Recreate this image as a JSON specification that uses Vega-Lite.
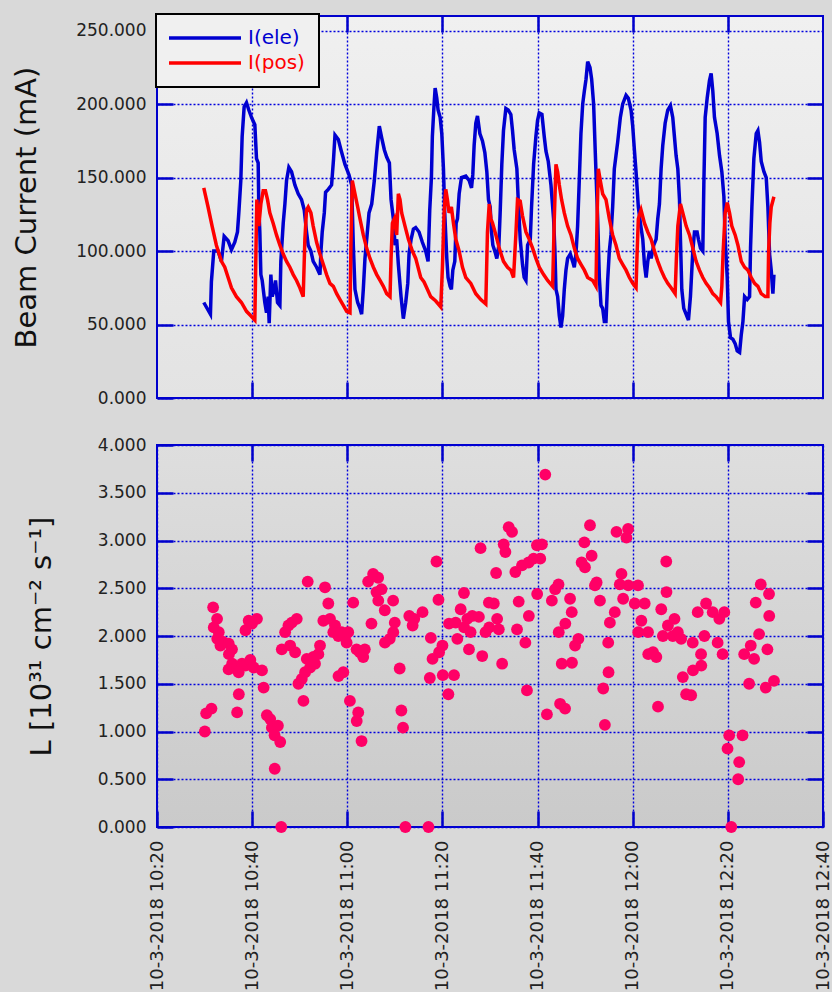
{
"$schema": "https://vega.github.io/schema/vega-lite/v6.json",
"background": "#d9d9d9",
"padding": {"left": 11, "top": 13, "right": 2, "bottom": 0},
"bounds": "flush",
"spacing": 47,
"config": {
  "view": {"stroke": "#0000cc", "strokeWidth": 2},
  "legend": {"strokeWidth": 2},
  "axis": {"labelFont": "DejaVu Sans", "labelFontSize": 17, "labelColor": "#222222", "titleFont": "DejaVu Sans", "titleFontSize": 29, "titleFontWeight": "normal", "titleColor": "#111111", "gridColor": "#0000dd", "gridDash": [2, 2], "gridWidth": 1.4, "gridOpacity": 1, "domain": false, "tickColor": "#0000cc", "tickWidth": 2.5, "tickSize": -16, "labelPadding": 27}
},
"datasets": {
"beam": [
{"t":"2018-10-03T10:29:50","s":"I(ele)","v":65},{"t":"2018-10-03T10:31:14","s":"I(ele)","v":57},{"t":"2018-10-03T10:31:26","s":"I(ele)","v":79},{"t":"2018-10-03T10:31:56","s":"I(ele)","v":100},{"t":"2018-10-03T10:32:50","s":"I(ele)","v":100},{"t":"2018-10-03T10:33:33","s":"I(ele)","v":93},{"t":"2018-10-03T10:34:07","s":"I(ele)","v":110},{"t":"2018-10-03T10:34:57","s":"I(ele)","v":107},{"t":"2018-10-03T10:35:39","s":"I(ele)","v":101},{"t":"2018-10-03T10:36:21","s":"I(ele)","v":106},{"t":"2018-10-03T10:36:55","s":"I(ele)","v":113},{"t":"2018-10-03T10:37:12","s":"I(ele)","v":126},{"t":"2018-10-03T10:37:37","s":"I(ele)","v":148},{"t":"2018-10-03T10:37:54","s":"I(ele)","v":178},{"t":"2018-10-03T10:38:19","s":"I(ele)","v":198},{"t":"2018-10-03T10:38:49","s":"I(ele)","v":201},{"t":"2018-10-03T10:39:18","s":"I(ele)","v":196},{"t":"2018-10-03T10:39:52","s":"I(ele)","v":191},{"t":"2018-10-03T10:40:34","s":"I(ele)","v":186},{"t":"2018-10-03T10:40:55","s":"I(ele)","v":163},{"t":"2018-10-03T10:41:16","s":"I(ele)","v":160},{"t":"2018-10-03T10:41:24","s":"I(ele)","v":130},{"t":"2018-10-03T10:41:37","s":"I(ele)","v":113},{"t":"2018-10-03T10:41:50","s":"I(ele)","v":84},{"t":"2018-10-03T10:42:07","s":"I(ele)","v":80},{"t":"2018-10-03T10:42:40","s":"I(ele)","v":65},{"t":"2018-10-03T10:43:01","s":"I(ele)","v":58},{"t":"2018-10-03T10:43:22","s":"I(ele)","v":69},{"t":"2018-10-03T10:43:35","s":"I(ele)","v":51},{"t":"2018-10-03T10:43:56","s":"I(ele)","v":84},{"t":"2018-10-03T10:44:13","s":"I(ele)","v":69},{"t":"2018-10-03T10:44:38","s":"I(ele)","v":74},{"t":"2018-10-03T10:44:55","s":"I(ele)","v":80},{"t":"2018-10-03T10:45:20","s":"I(ele)","v":65},{"t":"2018-10-03T10:45:50","s":"I(ele)","v":63},{"t":"2018-10-03T10:46:02","s":"I(ele)","v":93},{"t":"2018-10-03T10:46:32","s":"I(ele)","v":119},{"t":"2018-10-03T10:46:53","s":"I(ele)","v":132},{"t":"2018-10-03T10:47:14","s":"I(ele)","v":148},{"t":"2018-10-03T10:47:43","s":"I(ele)","v":157},{"t":"2018-10-03T10:48:17","s":"I(ele)","v":154},{"t":"2018-10-03T10:48:59","s":"I(ele)","v":145},{"t":"2018-10-03T10:49:41","s":"I(ele)","v":139},{"t":"2018-10-03T10:50:23","s":"I(ele)","v":135},{"t":"2018-10-03T10:50:57","s":"I(ele)","v":128},{"t":"2018-10-03T10:51:26","s":"I(ele)","v":113},{"t":"2018-10-03T10:51:47","s":"I(ele)","v":104},{"t":"2018-10-03T10:52:21","s":"I(ele)","v":100},{"t":"2018-10-03T10:52:50","s":"I(ele)","v":93},{"t":"2018-10-03T10:53:33","s":"I(ele)","v":89},{"t":"2018-10-03T10:54:15","s":"I(ele)","v":84},{"t":"2018-10-03T10:54:28","s":"I(ele)","v":100},{"t":"2018-10-03T10:54:44","s":"I(ele)","v":113},{"t":"2018-10-03T10:55:10","s":"I(ele)","v":126},{"t":"2018-10-03T10:55:26","s":"I(ele)","v":140},{"t":"2018-10-03T10:56:00","s":"I(ele)","v":142},{"t":"2018-10-03T10:56:42","s":"I(ele)","v":145},{"t":"2018-10-03T10:57:07","s":"I(ele)","v":163},{"t":"2018-10-03T10:57:25","s":"I(ele)","v":179},{"t":"2018-10-03T10:58:07","s":"I(ele)","v":176},{"t":"2018-10-03T10:58:40","s":"I(ele)","v":169},{"t":"2018-10-03T10:59:31","s":"I(ele)","v":159},{"t":"2018-10-03T11:00:21","s":"I(ele)","v":152},{"t":"2018-10-03T11:00:55","s":"I(ele)","v":145},{"t":"2018-10-03T11:01:16","s":"I(ele)","v":104},{"t":"2018-10-03T11:01:37","s":"I(ele)","v":74},{"t":"2018-10-03T11:02:11","s":"I(ele)","v":65},{"t":"2018-10-03T11:02:40","s":"I(ele)","v":61},{"t":"2018-10-03T11:03:01","s":"I(ele)","v":57},{"t":"2018-10-03T11:03:22","s":"I(ele)","v":74},{"t":"2018-10-03T11:03:43","s":"I(ele)","v":95},{"t":"2018-10-03T11:04:13","s":"I(ele)","v":113},{"t":"2018-10-03T11:04:34","s":"I(ele)","v":126},{"t":"2018-10-03T11:05:08","s":"I(ele)","v":132},{"t":"2018-10-03T11:05:41","s":"I(ele)","v":148},{"t":"2018-10-03T11:06:11","s":"I(ele)","v":167},{"t":"2018-10-03T11:06:44","s":"I(ele)","v":185},{"t":"2018-10-03T11:07:14","s":"I(ele)","v":177},{"t":"2018-10-03T11:07:47","s":"I(ele)","v":169},{"t":"2018-10-03T11:08:17","s":"I(ele)","v":164},{"t":"2018-10-03T11:08:51","s":"I(ele)","v":160},{"t":"2018-10-03T11:09:12","s":"I(ele)","v":135},{"t":"2018-10-03T11:09:41","s":"I(ele)","v":122},{"t":"2018-10-03T11:10:02","s":"I(ele)","v":104},{"t":"2018-10-03T11:10:23","s":"I(ele)","v":108},{"t":"2018-10-03T11:10:44","s":"I(ele)","v":91},{"t":"2018-10-03T11:11:18","s":"I(ele)","v":69},{"t":"2018-10-03T11:11:47","s":"I(ele)","v":54},{"t":"2018-10-03T11:12:17","s":"I(ele)","v":65},{"t":"2018-10-03T11:12:43","s":"I(ele)","v":78},{"t":"2018-10-03T11:12:59","s":"I(ele)","v":98},{"t":"2018-10-03T11:13:25","s":"I(ele)","v":108},{"t":"2018-10-03T11:13:54","s":"I(ele)","v":115},{"t":"2018-10-03T11:14:23","s":"I(ele)","v":116},{"t":"2018-10-03T11:15:05","s":"I(ele)","v":113},{"t":"2018-10-03T11:15:47","s":"I(ele)","v":106},{"t":"2018-10-03T11:16:29","s":"I(ele)","v":100},{"t":"2018-10-03T11:16:59","s":"I(ele)","v":93},{"t":"2018-10-03T11:17:20","s":"I(ele)","v":128},{"t":"2018-10-03T11:17:41","s":"I(ele)","v":150},{"t":"2018-10-03T11:17:53","s":"I(ele)","v":178},{"t":"2018-10-03T11:18:15","s":"I(ele)","v":200},{"t":"2018-10-03T11:18:28","s":"I(ele)","v":211},{"t":"2018-10-03T11:18:49","s":"I(ele)","v":204},{"t":"2018-10-03T11:19:05","s":"I(ele)","v":196},{"t":"2018-10-03T11:19:31","s":"I(ele)","v":191},{"t":"2018-10-03T11:19:52","s":"I(ele)","v":180},{"t":"2018-10-03T11:20:13","s":"I(ele)","v":156},{"t":"2018-10-03T11:20:29","s":"I(ele)","v":126},{"t":"2018-10-03T11:20:55","s":"I(ele)","v":95},{"t":"2018-10-03T11:21:11","s":"I(ele)","v":82},{"t":"2018-10-03T11:21:37","s":"I(ele)","v":76},{"t":"2018-10-03T11:21:53","s":"I(ele)","v":74},{"t":"2018-10-03T11:22:11","s":"I(ele)","v":87},{"t":"2018-10-03T11:22:36","s":"I(ele)","v":93},{"t":"2018-10-03T11:22:53","s":"I(ele)","v":119},{"t":"2018-10-03T11:23:10","s":"I(ele)","v":122},{"t":"2018-10-03T11:23:31","s":"I(ele)","v":139},{"t":"2018-10-03T11:24:00","s":"I(ele)","v":150},{"t":"2018-10-03T11:24:55","s":"I(ele)","v":151},{"t":"2018-10-03T11:25:37","s":"I(ele)","v":148},{"t":"2018-10-03T11:26:07","s":"I(ele)","v":143},{"t":"2018-10-03T11:26:23","s":"I(ele)","v":152},{"t":"2018-10-03T11:26:40","s":"I(ele)","v":172},{"t":"2018-10-03T11:27:01","s":"I(ele)","v":187},{"t":"2018-10-03T11:27:22","s":"I(ele)","v":192},{"t":"2018-10-03T11:27:52","s":"I(ele)","v":180},{"t":"2018-10-03T11:28:25","s":"I(ele)","v":175},{"t":"2018-10-03T11:28:55","s":"I(ele)","v":167},{"t":"2018-10-03T11:29:20","s":"I(ele)","v":154},{"t":"2018-10-03T11:29:41","s":"I(ele)","v":135},{"t":"2018-10-03T11:30:02","s":"I(ele)","v":130},{"t":"2018-10-03T11:30:19","s":"I(ele)","v":113},{"t":"2018-10-03T11:30:36","s":"I(ele)","v":104},{"t":"2018-10-03T11:31:01","s":"I(ele)","v":100},{"t":"2018-10-03T11:31:26","s":"I(ele)","v":95},{"t":"2018-10-03T11:31:52","s":"I(ele)","v":104},{"t":"2018-10-03T11:32:08","s":"I(ele)","v":126},{"t":"2018-10-03T11:32:29","s":"I(ele)","v":159},{"t":"2018-10-03T11:32:50","s":"I(ele)","v":182},{"t":"2018-10-03T11:33:20","s":"I(ele)","v":197},{"t":"2018-10-03T11:33:50","s":"I(ele)","v":196},{"t":"2018-10-03T11:34:23","s":"I(ele)","v":193},{"t":"2018-10-03T11:34:44","s":"I(ele)","v":182},{"t":"2018-10-03T11:35:05","s":"I(ele)","v":169},{"t":"2018-10-03T11:35:39","s":"I(ele)","v":156},{"t":"2018-10-03T11:35:56","s":"I(ele)","v":135},{"t":"2018-10-03T11:36:21","s":"I(ele)","v":108},{"t":"2018-10-03T11:36:50","s":"I(ele)","v":91},{"t":"2018-10-03T11:37:11","s":"I(ele)","v":82},{"t":"2018-10-03T11:37:33","s":"I(ele)","v":80},{"t":"2018-10-03T11:37:54","s":"I(ele)","v":104},{"t":"2018-10-03T11:38:28","s":"I(ele)","v":108},{"t":"2018-10-03T11:38:44","s":"I(ele)","v":130},{"t":"2018-10-03T11:39:10","s":"I(ele)","v":159},{"t":"2018-10-03T11:39:39","s":"I(ele)","v":178},{"t":"2018-10-03T11:40:00","s":"I(ele)","v":189},{"t":"2018-10-03T11:40:21","s":"I(ele)","v":194},{"t":"2018-10-03T11:40:55","s":"I(ele)","v":193},{"t":"2018-10-03T11:41:24","s":"I(ele)","v":178},{"t":"2018-10-03T11:41:46","s":"I(ele)","v":168},{"t":"2018-10-03T11:42:15","s":"I(ele)","v":161},{"t":"2018-10-03T11:42:49","s":"I(ele)","v":145},{"t":"2018-10-03T11:43:22","s":"I(ele)","v":122},{"t":"2018-10-03T11:43:39","s":"I(ele)","v":100},{"t":"2018-10-03T11:43:52","s":"I(ele)","v":74},{"t":"2018-10-03T11:44:13","s":"I(ele)","v":69},{"t":"2018-10-03T11:44:34","s":"I(ele)","v":56},{"t":"2018-10-03T11:44:55","s":"I(ele)","v":48},{"t":"2018-10-03T11:45:16","s":"I(ele)","v":56},{"t":"2018-10-03T11:45:37","s":"I(ele)","v":74},{"t":"2018-10-03T11:45:58","s":"I(ele)","v":87},{"t":"2018-10-03T11:46:19","s":"I(ele)","v":95},{"t":"2018-10-03T11:46:53","s":"I(ele)","v":98},{"t":"2018-10-03T11:47:22","s":"I(ele)","v":93},{"t":"2018-10-03T11:47:43","s":"I(ele)","v":89},{"t":"2018-10-03T11:48:04","s":"I(ele)","v":98},{"t":"2018-10-03T11:48:25","s":"I(ele)","v":117},{"t":"2018-10-03T11:48:46","s":"I(ele)","v":148},{"t":"2018-10-03T11:49:07","s":"I(ele)","v":180},{"t":"2018-10-03T11:49:29","s":"I(ele)","v":200},{"t":"2018-10-03T11:49:50","s":"I(ele)","v":209},{"t":"2018-10-03T11:50:11","s":"I(ele)","v":217},{"t":"2018-10-03T11:50:32","s":"I(ele)","v":229},{"t":"2018-10-03T11:51:01","s":"I(ele)","v":225},{"t":"2018-10-03T11:51:22","s":"I(ele)","v":217},{"t":"2018-10-03T11:51:47","s":"I(ele)","v":200},{"t":"2018-10-03T11:52:08","s":"I(ele)","v":167},{"t":"2018-10-03T11:52:25","s":"I(ele)","v":141},{"t":"2018-10-03T11:52:38","s":"I(ele)","v":122},{"t":"2018-10-03T11:52:59","s":"I(ele)","v":82},{"t":"2018-10-03T11:53:20","s":"I(ele)","v":63},{"t":"2018-10-03T11:53:41","s":"I(ele)","v":61},{"t":"2018-10-03T11:54:02","s":"I(ele)","v":52},{"t":"2018-10-03T11:54:23","s":"I(ele)","v":52},{"t":"2018-10-03T11:54:44","s":"I(ele)","v":80},{"t":"2018-10-03T11:55:05","s":"I(ele)","v":100},{"t":"2018-10-03T11:55:26","s":"I(ele)","v":111},{"t":"2018-10-03T11:55:47","s":"I(ele)","v":130},{"t":"2018-10-03T11:56:08","s":"I(ele)","v":156},{"t":"2018-10-03T11:56:29","s":"I(ele)","v":165},{"t":"2018-10-03T11:56:50","s":"I(ele)","v":174},{"t":"2018-10-03T11:57:24","s":"I(ele)","v":191},{"t":"2018-10-03T11:57:53","s":"I(ele)","v":200},{"t":"2018-10-03T11:58:36","s":"I(ele)","v":206},{"t":"2018-10-03T11:59:05","s":"I(ele)","v":204},{"t":"2018-10-03T11:59:39","s":"I(ele)","v":196},{"t":"2018-10-03T12:00:00","s":"I(ele)","v":185},{"t":"2018-10-03T12:00:21","s":"I(ele)","v":169},{"t":"2018-10-03T12:00:42","s":"I(ele)","v":154},{"t":"2018-10-03T12:01:11","s":"I(ele)","v":130},{"t":"2018-10-03T12:01:37","s":"I(ele)","v":119},{"t":"2018-10-03T12:02:07","s":"I(ele)","v":108},{"t":"2018-10-03T12:02:28","s":"I(ele)","v":91},{"t":"2018-10-03T12:02:49","s":"I(ele)","v":82},{"t":"2018-10-03T12:03:10","s":"I(ele)","v":93},{"t":"2018-10-03T12:03:31","s":"I(ele)","v":100},{"t":"2018-10-03T12:03:52","s":"I(ele)","v":95},{"t":"2018-10-03T12:04:25","s":"I(ele)","v":104},{"t":"2018-10-03T12:04:55","s":"I(ele)","v":108},{"t":"2018-10-03T12:05:16","s":"I(ele)","v":122},{"t":"2018-10-03T12:05:37","s":"I(ele)","v":132},{"t":"2018-10-03T12:05:58","s":"I(ele)","v":156},{"t":"2018-10-03T12:06:19","s":"I(ele)","v":172},{"t":"2018-10-03T12:06:49","s":"I(ele)","v":187},{"t":"2018-10-03T12:07:22","s":"I(ele)","v":196},{"t":"2018-10-03T12:07:56","s":"I(ele)","v":199},{"t":"2018-10-03T12:08:25","s":"I(ele)","v":191},{"t":"2018-10-03T12:08:46","s":"I(ele)","v":178},{"t":"2018-10-03T12:09:07","s":"I(ele)","v":165},{"t":"2018-10-03T12:09:29","s":"I(ele)","v":156},{"t":"2018-10-03T12:09:50","s":"I(ele)","v":135},{"t":"2018-10-03T12:10:02","s":"I(ele)","v":108},{"t":"2018-10-03T12:10:19","s":"I(ele)","v":74},{"t":"2018-10-03T12:10:44","s":"I(ele)","v":61},{"t":"2018-10-03T12:11:14","s":"I(ele)","v":57},{"t":"2018-10-03T12:11:43","s":"I(ele)","v":53},{"t":"2018-10-03T12:12:08","s":"I(ele)","v":69},{"t":"2018-10-03T12:12:38","s":"I(ele)","v":100},{"t":"2018-10-03T12:12:59","s":"I(ele)","v":113},{"t":"2018-10-03T12:13:32","s":"I(ele)","v":113},{"t":"2018-10-03T12:13:49","s":"I(ele)","v":108},{"t":"2018-10-03T12:14:15","s":"I(ele)","v":102},{"t":"2018-10-03T12:14:44","s":"I(ele)","v":100},{"t":"2018-10-03T12:14:57","s":"I(ele)","v":145},{"t":"2018-10-03T12:15:14","s":"I(ele)","v":191},{"t":"2018-10-03T12:15:39","s":"I(ele)","v":204},{"t":"2018-10-03T12:16:08","s":"I(ele)","v":216},{"t":"2018-10-03T12:16:29","s":"I(ele)","v":221},{"t":"2018-10-03T12:16:50","s":"I(ele)","v":209},{"t":"2018-10-03T12:17:11","s":"I(ele)","v":191},{"t":"2018-10-03T12:17:45","s":"I(ele)","v":180},{"t":"2018-10-03T12:18:15","s":"I(ele)","v":165},{"t":"2018-10-03T12:18:44","s":"I(ele)","v":154},{"t":"2018-10-03T12:19:10","s":"I(ele)","v":137},{"t":"2018-10-03T12:19:26","s":"I(ele)","v":108},{"t":"2018-10-03T12:19:52","s":"I(ele)","v":82},{"t":"2018-10-03T12:20:08","s":"I(ele)","v":52},{"t":"2018-10-03T12:20:34","s":"I(ele)","v":41},{"t":"2018-10-03T12:21:03","s":"I(ele)","v":40},{"t":"2018-10-03T12:21:32","s":"I(ele)","v":37},{"t":"2018-10-03T12:21:58","s":"I(ele)","v":32},{"t":"2018-10-03T12:22:28","s":"I(ele)","v":31},{"t":"2018-10-03T12:22:49","s":"I(ele)","v":43},{"t":"2018-10-03T12:23:10","s":"I(ele)","v":52},{"t":"2018-10-03T12:23:31","s":"I(ele)","v":69},{"t":"2018-10-03T12:24:04","s":"I(ele)","v":67},{"t":"2018-10-03T12:24:34","s":"I(ele)","v":69},{"t":"2018-10-03T12:24:46","s":"I(ele)","v":102},{"t":"2018-10-03T12:25:03","s":"I(ele)","v":130},{"t":"2018-10-03T12:25:28","s":"I(ele)","v":163},{"t":"2018-10-03T12:25:58","s":"I(ele)","v":180},{"t":"2018-10-03T12:26:19","s":"I(ele)","v":182},{"t":"2018-10-03T12:26:40","s":"I(ele)","v":174},{"t":"2018-10-03T12:27:01","s":"I(ele)","v":161},{"t":"2018-10-03T12:27:35","s":"I(ele)","v":154},{"t":"2018-10-03T12:28:04","s":"I(ele)","v":150},{"t":"2018-10-03T12:28:25","s":"I(ele)","v":130},{"t":"2018-10-03T12:28:46","s":"I(ele)","v":98},{"t":"2018-10-03T12:29:07","s":"I(ele)","v":87},{"t":"2018-10-03T12:29:28","s":"I(ele)","v":71},{"t":"2018-10-03T12:29:41","s":"I(ele)","v":84},
{"t":"2018-10-03T10:29:50","s":"I(pos)","v":143},{"t":"2018-10-03T10:30:44","s":"I(pos)","v":130},{"t":"2018-10-03T10:31:35","s":"I(pos)","v":117},{"t":"2018-10-03T10:32:29","s":"I(pos)","v":104},{"t":"2018-10-03T10:33:33","s":"I(pos)","v":93},{"t":"2018-10-03T10:34:15","s":"I(pos)","v":89},{"t":"2018-10-03T10:34:57","s":"I(pos)","v":82},{"t":"2018-10-03T10:35:39","s":"I(pos)","v":75},{"t":"2018-10-03T10:36:42","s":"I(pos)","v":69},{"t":"2018-10-03T10:37:45","s":"I(pos)","v":65},{"t":"2018-10-03T10:38:49","s":"I(pos)","v":59},{"t":"2018-10-03T10:39:43","s":"I(pos)","v":56},{"t":"2018-10-03T10:40:34","s":"I(pos)","v":53},{"t":"2018-10-03T10:40:46","s":"I(pos)","v":93},{"t":"2018-10-03T10:40:59","s":"I(pos)","v":135},{"t":"2018-10-03T10:41:24","s":"I(pos)","v":117},{"t":"2018-10-03T10:41:50","s":"I(pos)","v":132},{"t":"2018-10-03T10:42:19","s":"I(pos)","v":141},{"t":"2018-10-03T10:42:48","s":"I(pos)","v":141},{"t":"2018-10-03T10:43:14","s":"I(pos)","v":135},{"t":"2018-10-03T10:43:43","s":"I(pos)","v":126},{"t":"2018-10-03T10:44:25","s":"I(pos)","v":119},{"t":"2018-10-03T10:45:07","s":"I(pos)","v":111},{"t":"2018-10-03T10:45:50","s":"I(pos)","v":104},{"t":"2018-10-03T10:46:32","s":"I(pos)","v":98},{"t":"2018-10-03T10:47:14","s":"I(pos)","v":93},{"t":"2018-10-03T10:47:56","s":"I(pos)","v":89},{"t":"2018-10-03T10:48:38","s":"I(pos)","v":84},{"t":"2018-10-03T10:49:20","s":"I(pos)","v":80},{"t":"2018-10-03T10:50:02","s":"I(pos)","v":75},{"t":"2018-10-03T10:50:44","s":"I(pos)","v":69},{"t":"2018-10-03T10:51:05","s":"I(pos)","v":108},{"t":"2018-10-03T10:51:26","s":"I(pos)","v":128},{"t":"2018-10-03T10:51:47","s":"I(pos)","v":130},{"t":"2018-10-03T10:52:21","s":"I(pos)","v":126},{"t":"2018-10-03T10:52:50","s":"I(pos)","v":117},{"t":"2018-10-03T10:53:33","s":"I(pos)","v":106},{"t":"2018-10-03T10:54:15","s":"I(pos)","v":98},{"t":"2018-10-03T10:54:57","s":"I(pos)","v":91},{"t":"2018-10-03T10:55:39","s":"I(pos)","v":84},{"t":"2018-10-03T10:56:21","s":"I(pos)","v":78},{"t":"2018-10-03T10:57:04","s":"I(pos)","v":76},{"t":"2018-10-03T10:57:46","s":"I(pos)","v":71},{"t":"2018-10-03T10:58:28","s":"I(pos)","v":67},{"t":"2018-10-03T10:59:10","s":"I(pos)","v":63},{"t":"2018-10-03T10:59:52","s":"I(pos)","v":59},{"t":"2018-10-03T11:00:34","s":"I(pos)","v":58},{"t":"2018-10-03T11:00:46","s":"I(pos)","v":104},{"t":"2018-10-03T11:01:03","s":"I(pos)","v":148},{"t":"2018-10-03T11:01:37","s":"I(pos)","v":139},{"t":"2018-10-03T11:02:11","s":"I(pos)","v":130},{"t":"2018-10-03T11:02:40","s":"I(pos)","v":122},{"t":"2018-10-03T11:03:22","s":"I(pos)","v":111},{"t":"2018-10-03T11:04:04","s":"I(pos)","v":102},{"t":"2018-10-03T11:04:46","s":"I(pos)","v":95},{"t":"2018-10-03T11:05:29","s":"I(pos)","v":89},{"t":"2018-10-03T11:06:11","s":"I(pos)","v":84},{"t":"2018-10-03T11:06:53","s":"I(pos)","v":80},{"t":"2018-10-03T11:07:35","s":"I(pos)","v":76},{"t":"2018-10-03T11:08:17","s":"I(pos)","v":71},{"t":"2018-10-03T11:08:59","s":"I(pos)","v":69},{"t":"2018-10-03T11:09:12","s":"I(pos)","v":95},{"t":"2018-10-03T11:09:29","s":"I(pos)","v":119},{"t":"2018-10-03T11:09:54","s":"I(pos)","v":122},{"t":"2018-10-03T11:10:23","s":"I(pos)","v":111},{"t":"2018-10-03T11:10:44","s":"I(pos)","v":139},{"t":"2018-10-03T11:11:05","s":"I(pos)","v":135},{"t":"2018-10-03T11:11:26","s":"I(pos)","v":126},{"t":"2018-10-03T11:12:08","s":"I(pos)","v":117},{"t":"2018-10-03T11:12:51","s":"I(pos)","v":108},{"t":"2018-10-03T11:13:41","s":"I(pos)","v":100},{"t":"2018-10-03T11:14:23","s":"I(pos)","v":95},{"t":"2018-10-03T11:15:26","s":"I(pos)","v":82},{"t":"2018-10-03T11:16:08","s":"I(pos)","v":79},{"t":"2018-10-03T11:16:50","s":"I(pos)","v":74},{"t":"2018-10-03T11:17:32","s":"I(pos)","v":69},{"t":"2018-10-03T11:18:36","s":"I(pos)","v":66},{"t":"2018-10-03T11:19:39","s":"I(pos)","v":62},{"t":"2018-10-03T11:20:00","s":"I(pos)","v":89},{"t":"2018-10-03T11:20:21","s":"I(pos)","v":126},{"t":"2018-10-03T11:20:42","s":"I(pos)","v":142},{"t":"2018-10-03T11:21:03","s":"I(pos)","v":135},{"t":"2018-10-03T11:21:24","s":"I(pos)","v":126},{"t":"2018-10-03T11:21:53","s":"I(pos)","v":130},{"t":"2018-10-03T11:22:19","s":"I(pos)","v":119},{"t":"2018-10-03T11:22:49","s":"I(pos)","v":108},{"t":"2018-10-03T11:23:31","s":"I(pos)","v":100},{"t":"2018-10-03T11:24:13","s":"I(pos)","v":89},{"t":"2018-10-03T11:24:55","s":"I(pos)","v":82},{"t":"2018-10-03T11:25:58","s":"I(pos)","v":78},{"t":"2018-10-03T11:27:01","s":"I(pos)","v":71},{"t":"2018-10-03T11:28:04","s":"I(pos)","v":67},{"t":"2018-10-03T11:29:07","s":"I(pos)","v":64},{"t":"2018-10-03T11:29:28","s":"I(pos)","v":113},{"t":"2018-10-03T11:29:50","s":"I(pos)","v":132},{"t":"2018-10-03T11:30:11","s":"I(pos)","v":122},{"t":"2018-10-03T11:30:32","s":"I(pos)","v":119},{"t":"2018-10-03T11:31:14","s":"I(pos)","v":111},{"t":"2018-10-03T11:31:56","s":"I(pos)","v":102},{"t":"2018-10-03T11:32:50","s":"I(pos)","v":93},{"t":"2018-10-03T11:33:41","s":"I(pos)","v":89},{"t":"2018-10-03T11:34:23","s":"I(pos)","v":87},{"t":"2018-10-03T11:34:57","s":"I(pos)","v":82},{"t":"2018-10-03T11:35:26","s":"I(pos)","v":111},{"t":"2018-10-03T11:35:47","s":"I(pos)","v":135},{"t":"2018-10-03T11:36:21","s":"I(pos)","v":134},{"t":"2018-10-03T11:36:50","s":"I(pos)","v":124},{"t":"2018-10-03T11:37:33","s":"I(pos)","v":113},{"t":"2018-10-03T11:38:15","s":"I(pos)","v":108},{"t":"2018-10-03T11:38:57","s":"I(pos)","v":102},{"t":"2018-10-03T11:39:39","s":"I(pos)","v":95},{"t":"2018-10-03T11:40:21","s":"I(pos)","v":89},{"t":"2018-10-03T11:41:16","s":"I(pos)","v":84},{"t":"2018-10-03T11:42:07","s":"I(pos)","v":80},{"t":"2018-10-03T11:43:10","s":"I(pos)","v":76},{"t":"2018-10-03T11:43:31","s":"I(pos)","v":122},{"t":"2018-10-03T11:43:52","s":"I(pos)","v":159},{"t":"2018-10-03T11:44:13","s":"I(pos)","v":154},{"t":"2018-10-03T11:44:34","s":"I(pos)","v":145},{"t":"2018-10-03T11:45:03","s":"I(pos)","v":135},{"t":"2018-10-03T11:45:37","s":"I(pos)","v":126},{"t":"2018-10-03T11:46:19","s":"I(pos)","v":117},{"t":"2018-10-03T11:47:01","s":"I(pos)","v":111},{"t":"2018-10-03T11:47:43","s":"I(pos)","v":102},{"t":"2018-10-03T11:48:25","s":"I(pos)","v":95},{"t":"2018-10-03T11:49:07","s":"I(pos)","v":91},{"t":"2018-10-03T11:49:50","s":"I(pos)","v":87},{"t":"2018-10-03T11:50:32","s":"I(pos)","v":82},{"t":"2018-10-03T11:51:35","s":"I(pos)","v":80},{"t":"2018-10-03T11:52:17","s":"I(pos)","v":76},{"t":"2018-10-03T11:52:29","s":"I(pos)","v":119},{"t":"2018-10-03T11:52:46","s":"I(pos)","v":156},{"t":"2018-10-03T11:53:11","s":"I(pos)","v":148},{"t":"2018-10-03T11:53:41","s":"I(pos)","v":139},{"t":"2018-10-03T11:54:23","s":"I(pos)","v":135},{"t":"2018-10-03T11:55:05","s":"I(pos)","v":122},{"t":"2018-10-03T11:55:47","s":"I(pos)","v":111},{"t":"2018-10-03T11:56:29","s":"I(pos)","v":104},{"t":"2018-10-03T11:57:11","s":"I(pos)","v":95},{"t":"2018-10-03T11:57:53","s":"I(pos)","v":91},{"t":"2018-10-03T11:58:36","s":"I(pos)","v":87},{"t":"2018-10-03T11:59:18","s":"I(pos)","v":82},{"t":"2018-10-03T12:00:00","s":"I(pos)","v":78},{"t":"2018-10-03T12:00:42","s":"I(pos)","v":75},{"t":"2018-10-03T12:00:55","s":"I(pos)","v":98},{"t":"2018-10-03T12:01:11","s":"I(pos)","v":122},{"t":"2018-10-03T12:01:45","s":"I(pos)","v":128},{"t":"2018-10-03T12:02:28","s":"I(pos)","v":119},{"t":"2018-10-03T12:03:10","s":"I(pos)","v":113},{"t":"2018-10-03T12:03:52","s":"I(pos)","v":108},{"t":"2018-10-03T12:04:34","s":"I(pos)","v":100},{"t":"2018-10-03T12:05:16","s":"I(pos)","v":93},{"t":"2018-10-03T12:05:58","s":"I(pos)","v":87},{"t":"2018-10-03T12:06:40","s":"I(pos)","v":82},{"t":"2018-10-03T12:07:22","s":"I(pos)","v":78},{"t":"2018-10-03T12:08:04","s":"I(pos)","v":75},{"t":"2018-10-03T12:08:55","s":"I(pos)","v":71},{"t":"2018-10-03T12:09:11","s":"I(pos)","v":95},{"t":"2018-10-03T12:09:29","s":"I(pos)","v":117},{"t":"2018-10-03T12:10:02","s":"I(pos)","v":132},{"t":"2018-10-03T12:10:32","s":"I(pos)","v":126},{"t":"2018-10-03T12:11:14","s":"I(pos)","v":117},{"t":"2018-10-03T12:11:56","s":"I(pos)","v":111},{"t":"2018-10-03T12:12:38","s":"I(pos)","v":102},{"t":"2018-10-03T12:13:20","s":"I(pos)","v":93},{"t":"2018-10-03T12:14:02","s":"I(pos)","v":87},{"t":"2018-10-03T12:14:44","s":"I(pos)","v":82},{"t":"2018-10-03T12:15:26","s":"I(pos)","v":78},{"t":"2018-10-03T12:16:08","s":"I(pos)","v":75},{"t":"2018-10-03T12:16:50","s":"I(pos)","v":71},{"t":"2018-10-03T12:17:32","s":"I(pos)","v":69},{"t":"2018-10-03T12:18:28","s":"I(pos)","v":65},{"t":"2018-10-03T12:18:44","s":"I(pos)","v":76},{"t":"2018-10-03T12:19:01","s":"I(pos)","v":100},{"t":"2018-10-03T12:19:26","s":"I(pos)","v":126},{"t":"2018-10-03T12:19:52","s":"I(pos)","v":133},{"t":"2018-10-03T12:20:21","s":"I(pos)","v":126},{"t":"2018-10-03T12:20:50","s":"I(pos)","v":117},{"t":"2018-10-03T12:21:32","s":"I(pos)","v":111},{"t":"2018-10-03T12:22:07","s":"I(pos)","v":104},{"t":"2018-10-03T12:22:49","s":"I(pos)","v":93},{"t":"2018-10-03T12:23:31","s":"I(pos)","v":89},{"t":"2018-10-03T12:24:13","s":"I(pos)","v":87},{"t":"2018-10-03T12:24:55","s":"I(pos)","v":82},{"t":"2018-10-03T12:25:37","s":"I(pos)","v":78},{"t":"2018-10-03T12:26:19","s":"I(pos)","v":76},{"t":"2018-10-03T12:27:01","s":"I(pos)","v":71},{"t":"2018-10-03T12:27:52","s":"I(pos)","v":69},{"t":"2018-10-03T12:28:25","s":"I(pos)","v":69},{"t":"2018-10-03T12:28:34","s":"I(pos)","v":100},{"t":"2018-10-03T12:28:50","s":"I(pos)","v":119},{"t":"2018-10-03T12:29:07","s":"I(pos)","v":130},{"t":"2018-10-03T12:29:41","s":"I(pos)","v":137}
],
"lumi": [
{"t":"2018-10-03T10:30:03","L":1.00},{"t":"2018-10-03T10:30:20","L":1.19},{"t":"2018-10-03T10:31:27","L":1.24},{"t":"2018-10-03T10:31:48","L":2.30},{"t":"2018-10-03T10:32:38","L":2.18},{"t":"2018-10-03T10:31:56","L":2.09},{"t":"2018-10-03T10:32:59","L":2.04},{"t":"2018-10-03T10:32:40","L":1.97},{"t":"2018-10-03T10:33:49","L":1.94},{"t":"2018-10-03T10:33:20","L":1.90},{"t":"2018-10-03T10:35:05","L":1.92},{"t":"2018-10-03T10:35:46","L":1.86},{"t":"2018-10-03T10:35:07","L":1.81},{"t":"2018-10-03T10:35:48","L":1.71},{"t":"2018-10-03T10:35:03","L":1.65},{"t":"2018-10-03T10:36:49","L":1.67},{"t":"2018-10-03T10:37:52","L":1.71},{"t":"2018-10-03T10:38:34","L":1.69},{"t":"2018-10-03T10:39:37","L":1.75},{"t":"2018-10-03T10:40:19","L":1.67},{"t":"2018-10-03T10:42:04","L":1.64},{"t":"2018-10-03T10:37:10","L":1.62},{"t":"2018-10-03T10:42:25","L":1.46},{"t":"2018-10-03T10:37:12","L":1.39},{"t":"2018-10-03T10:36:51","L":1.20},{"t":"2018-10-03T10:38:36","L":2.06},{"t":"2018-10-03T10:39:16","L":2.16},{"t":"2018-10-03T10:41:01","L":2.18},{"t":"2018-10-03T10:39:58","L":2.13},{"t":"2018-10-03T10:43:06","L":1.17},{"t":"2018-10-03T10:43:48","L":1.13},{"t":"2018-10-03T10:44:09","L":1.04},{"t":"2018-10-03T10:45:25","L":1.06},{"t":"2018-10-03T10:44:43","L":0.96},{"t":"2018-10-03T10:45:54","L":0.89},{"t":"2018-10-03T10:44:45","L":0.61},{"t":"2018-10-03T10:46:07","L":0.00},{"t":"2018-10-03T10:46:56","L":2.04},{"t":"2018-10-03T10:47:38","L":2.11},{"t":"2018-10-03T10:49:23","L":2.18},{"t":"2018-10-03T10:48:20","L":2.14},{"t":"2018-10-03T10:46:14","L":1.86},{"t":"2018-10-03T10:47:59","L":1.90},{"t":"2018-10-03T10:49:02","L":1.83},{"t":"2018-10-03T10:49:44","L":1.50},{"t":"2018-10-03T10:50:26","L":1.55},{"t":"2018-10-03T10:51:08","L":1.62},{"t":"2018-10-03T10:52:11","L":1.67},{"t":"2018-10-03T10:53:13","L":1.71},{"t":"2018-10-03T10:52:53","L":1.78},{"t":"2018-10-03T10:53:55","L":1.81},{"t":"2018-10-03T10:54:16","L":1.90},{"t":"2018-10-03T10:51:29","L":1.76},{"t":"2018-10-03T10:50:47","L":1.32},{"t":"2018-10-03T10:51:41","L":2.57},{"t":"2018-10-03T10:55:19","L":2.51},{"t":"2018-10-03T10:56:01","L":2.34},{"t":"2018-10-03T10:54:58","L":2.16},{"t":"2018-10-03T10:56:22","L":2.18},{"t":"2018-10-03T10:57:25","L":2.11},{"t":"2018-10-03T10:57:04","L":2.04},{"t":"2018-10-03T10:58:07","L":2.00},{"t":"2018-10-03T10:59:31","L":1.99},{"t":"2018-10-03T10:59:52","L":1.93},{"t":"2018-10-03T10:58:49","L":2.04},{"t":"2018-10-03T11:00:12","L":2.04},{"t":"2018-10-03T10:58:09","L":1.58},{"t":"2018-10-03T10:59:10","L":1.62},{"t":"2018-10-03T11:01:15","L":2.35},{"t":"2018-10-03T11:01:57","L":1.86},{"t":"2018-10-03T11:03:21","L":1.78},{"t":"2018-10-03T11:03:41","L":1.86},{"t":"2018-10-03T11:02:39","L":1.83},{"t":"2018-10-03T11:00:33","L":1.32},{"t":"2018-10-03T11:02:18","L":1.20},{"t":"2018-10-03T11:01:59","L":1.11},{"t":"2018-10-03T11:03:00","L":0.90},{"t":"2018-10-03T11:04:23","L":2.57},{"t":"2018-10-03T11:05:26","L":2.65},{"t":"2018-10-03T11:06:29","L":2.61},{"t":"2018-10-03T11:06:08","L":2.46},{"t":"2018-10-03T11:07:11","L":2.49},{"t":"2018-10-03T11:06:31","L":2.37},{"t":"2018-10-03T11:07:53","L":2.27},{"t":"2018-10-03T11:09:38","L":2.37},{"t":"2018-10-03T11:05:05","L":2.13},{"t":"2018-10-03T11:09:59","L":2.14},{"t":"2018-10-03T11:09:40","L":2.04},{"t":"2018-10-03T11:08:56","L":1.97},{"t":"2018-10-03T11:07:55","L":1.93},{"t":"2018-10-03T11:11:01","L":1.66},{"t":"2018-10-03T11:11:22","L":1.22},{"t":"2018-10-03T11:11:43","L":1.04},{"t":"2018-10-03T11:12:13","L":0.00},{"t":"2018-10-03T11:13:02","L":2.21},{"t":"2018-10-03T11:14:05","L":2.18},{"t":"2018-10-03T11:15:49","L":2.25},{"t":"2018-10-03T11:13:44","L":2.11},{"t":"2018-10-03T11:17:04","L":0.00},{"t":"2018-10-03T11:18:45","L":2.78},{"t":"2018-10-03T11:19:10","L":2.38},{"t":"2018-10-03T11:17:34","L":1.98},{"t":"2018-10-03T11:20:00","L":1.90},{"t":"2018-10-03T11:19:18","L":1.83},{"t":"2018-10-03T11:17:55","L":1.76},{"t":"2018-10-03T11:17:21","L":1.56},{"t":"2018-10-03T11:20:05","L":1.59},{"t":"2018-10-03T11:22:26","L":1.59},{"t":"2018-10-03T11:21:15","L":1.39},{"t":"2018-10-03T11:24:32","L":2.45},{"t":"2018-10-03T11:23:50","L":2.28},{"t":"2018-10-03T11:21:23","L":2.13},{"t":"2018-10-03T11:22:47","L":2.14},{"t":"2018-10-03T11:25:14","L":2.18},{"t":"2018-10-03T11:24:34","L":2.09},{"t":"2018-10-03T11:26:16","L":2.21},{"t":"2018-10-03T11:27:40","L":2.20},{"t":"2018-10-03T11:25:55","L":2.04},{"t":"2018-10-03T11:23:08","L":1.97},{"t":"2018-10-03T11:25:35","L":1.86},{"t":"2018-10-03T11:28:22","L":1.79},{"t":"2018-10-03T11:29:46","L":2.35},{"t":"2018-10-03T11:30:48","L":2.34},{"t":"2018-10-03T11:31:30","L":2.18},{"t":"2018-10-03T11:29:50","L":2.09},{"t":"2018-10-03T11:31:51","L":2.07},{"t":"2018-10-03T11:29:04","L":2.04},{"t":"2018-10-03T11:28:01","L":2.92},{"t":"2018-10-03T11:32:33","L":1.71},{"t":"2018-10-03T11:31:17","L":2.66},{"t":"2018-10-03T11:33:14","L":2.88},{"t":"2018-10-03T11:32:53","L":2.96},{"t":"2018-10-03T11:33:56","L":3.14},{"t":"2018-10-03T11:34:38","L":3.09},{"t":"2018-10-03T11:35:20","L":2.67},{"t":"2018-10-03T11:36:44","L":2.74},{"t":"2018-10-03T11:38:07","L":2.77},{"t":"2018-10-03T11:39:10","L":2.81},{"t":"2018-10-03T11:39:52","L":2.95},{"t":"2018-10-03T11:40:55","L":2.96},{"t":"2018-10-03T11:40:34","L":2.81},{"t":"2018-10-03T11:36:02","L":2.36},{"t":"2018-10-03T11:38:10","L":2.21},{"t":"2018-10-03T11:35:41","L":2.07},{"t":"2018-10-03T11:37:26","L":1.93},{"t":"2018-10-03T11:37:46","L":1.43},{"t":"2018-10-03T11:39:55","L":2.44},{"t":"2018-10-03T11:41:37","L":3.69},{"t":"2018-10-03T11:41:58","L":1.18},{"t":"2018-10-03T11:44:44","L":1.29},{"t":"2018-10-03T11:45:47","L":1.24},{"t":"2018-10-03T11:43:42","L":2.49},{"t":"2018-10-03T11:44:24","L":2.54},{"t":"2018-10-03T11:43:00","L":2.37},{"t":"2018-10-03T11:46:50","L":2.39},{"t":"2018-10-03T11:47:11","L":2.25},{"t":"2018-10-03T11:45:50","L":2.13},{"t":"2018-10-03T11:44:27","L":2.04},{"t":"2018-10-03T11:48:35","L":1.97},{"t":"2018-10-03T11:47:53","L":1.90},{"t":"2018-10-03T11:47:14","L":1.72},{"t":"2018-10-03T11:45:05","L":1.71},{"t":"2018-10-03T11:51:01","L":3.16},{"t":"2018-10-03T11:49:50","L":2.98},{"t":"2018-10-03T11:51:22","L":2.84},{"t":"2018-10-03T11:49:16","L":2.77},{"t":"2018-10-03T11:49:58","L":2.72},{"t":"2018-10-03T11:52:25","L":2.56},{"t":"2018-10-03T11:52:04","L":2.53},{"t":"2018-10-03T11:53:07","L":2.37},{"t":"2018-10-03T11:56:14","L":2.25},{"t":"2018-10-03T11:55:12","L":2.14},{"t":"2018-10-03T11:54:51","L":1.93},{"t":"2018-10-03T11:54:55","L":1.62},{"t":"2018-10-03T11:53:48","L":1.45},{"t":"2018-10-03T11:54:09","L":1.07},{"t":"2018-10-03T11:56:35","L":3.09},{"t":"2018-10-03T11:59:02","L":3.12},{"t":"2018-10-03T11:58:41","L":3.03},{"t":"2018-10-03T11:57:38","L":2.65},{"t":"2018-10-03T11:57:17","L":2.54},{"t":"2018-10-03T11:59:05","L":2.53},{"t":"2018-10-03T12:01:07","L":2.53},{"t":"2018-10-03T11:57:59","L":2.39},{"t":"2018-10-03T12:00:26","L":2.34},{"t":"2018-10-03T12:02:31","L":2.34},{"t":"2018-10-03T12:01:49","L":2.16},{"t":"2018-10-03T12:01:10","L":2.04},{"t":"2018-10-03T12:03:13","L":2.04},{"t":"2018-10-03T12:04:16","L":1.83},{"t":"2018-10-03T12:03:16","L":1.81},{"t":"2018-10-03T12:04:58","L":1.78},{"t":"2018-10-03T12:07:03","L":2.78},{"t":"2018-10-03T12:07:06","L":2.46},{"t":"2018-10-03T12:06:00","L":2.28},{"t":"2018-10-03T12:07:24","L":2.11},{"t":"2018-10-03T12:08:47","L":2.18},{"t":"2018-10-03T12:08:26","L":2.00},{"t":"2018-10-03T12:09:29","L":2.04},{"t":"2018-10-03T12:06:21","L":2.00},{"t":"2018-10-03T12:10:11","L":1.97},{"t":"2018-10-03T12:05:19","L":1.26},{"t":"2018-10-03T12:12:37","L":1.93},{"t":"2018-10-03T12:15:04","L":2.00},{"t":"2018-10-03T12:13:40","L":2.25},{"t":"2018-10-03T12:15:25","L":2.34},{"t":"2018-10-03T12:16:49","L":2.25},{"t":"2018-10-03T12:18:12","L":2.18},{"t":"2018-10-03T12:19:15","L":2.25},{"t":"2018-10-03T12:17:51","L":1.93},{"t":"2018-10-03T12:18:54","L":1.81},{"t":"2018-10-03T12:14:22","L":1.81},{"t":"2018-10-03T12:14:25","L":1.69},{"t":"2018-10-03T12:12:40","L":1.64},{"t":"2018-10-03T12:10:32","L":1.57},{"t":"2018-10-03T12:11:14","L":1.39},{"t":"2018-10-03T12:12:17","L":1.38},{"t":"2018-10-03T12:20:17","L":0.96},{"t":"2018-10-03T12:23:05","L":0.96},{"t":"2018-10-03T12:19:56","L":0.82},{"t":"2018-10-03T12:22:23","L":0.68},{"t":"2018-10-03T12:22:10","L":0.50},{"t":"2018-10-03T12:20:43","L":0.00},{"t":"2018-10-03T12:26:55","L":2.54},{"t":"2018-10-03T12:28:39","L":2.44},{"t":"2018-10-03T12:25:52","L":2.35},{"t":"2018-10-03T12:28:42","L":2.21},{"t":"2018-10-03T12:26:34","L":2.02},{"t":"2018-10-03T12:24:49","L":1.90},{"t":"2018-10-03T12:23:26","L":1.81},{"t":"2018-10-03T12:25:31","L":1.76},{"t":"2018-10-03T12:28:19","L":1.86},{"t":"2018-10-03T12:24:28","L":1.50},{"t":"2018-10-03T12:27:58","L":1.46},{"t":"2018-10-03T12:29:42","L":1.53}
]
},
"vconcat": [
{
  "width": 666, "height": 382,
  "view": {"fill": {"gradient": "linear", "x1": 0, "y1": 0, "x2": 0, "y2": 1, "stops": [{"offset": 0, "color": "#f0f0f0"}, {"offset": 1, "color": "#e3e3e3"}]}},
  "data": {"name": "beam"},
  "layer": [
    {
      "mark": {"type": "line", "strokeWidth": 3.5, "interpolate": "linear"},
      "encoding": {
        "x": {"field": "t", "type": "temporal",
              "scale": {"domain": [{"year": 2018, "month": 10, "date": 3, "hours": 10, "minutes": 20}, {"year": 2018, "month": 10, "date": 3, "hours": 12, "minutes": 40}]},
              "axis": {"orient": "bottom", "labels": false, "title": null, "grid": true,
                       "values": [{"year": 2018, "month": 10, "date": 3, "hours": 10, "minutes": 40}, {"year": 2018, "month": 10, "date": 3, "hours": 11, "minutes": 0}, {"year": 2018, "month": 10, "date": 3, "hours": 11, "minutes": 20}, {"year": 2018, "month": 10, "date": 3, "hours": 11, "minutes": 40}, {"year": 2018, "month": 10, "date": 3, "hours": 12, "minutes": 0}, {"year": 2018, "month": 10, "date": 3, "hours": 12, "minutes": 20}]}},
        "y": {"field": "v", "type": "quantitative", "scale": {"domain": [0, 250]},
              "axis": {"orient": "left", "values": [0, 50, 100, 150, 200, 250], "format": ".3f", "title": "Beam Current (mA)", "grid": true, "titlePadding": 34}},
        "color": {"field": "s", "type": "nominal",
                  "scale": {"domain": ["I(ele)", "I(pos)"], "range": ["#0000d0", "#ff0000"]},
                  "legend": {"title": null, "orient": "none", "legendX": -1, "legendY": -2, "symbolType": "M-5.5,0H30.5", "symbolSize": 16, "symbolStrokeWidth": 3.5, "labelFont": "DejaVu Sans", "labelFontSize": 20, "labelOffset": 58, "padding": 14, "strokeColor": "#000000", "fillColor": "#f0f0f0", "rowPadding": 5, "labelLimit": 200, "direction": "vertical",
                             "encode": {"labels": {"update": {"fill": {"signal": "datum.label === 'I(ele)' ? '#0000d0' : '#ff0000'"}}}}}}
      }
    },
    {
      "mark": {"type": "line", "opacity": 0},
      "encoding": {
        "x": {"field": "t", "type": "temporal",
              "axis": {"orient": "top", "labels": false, "title": null, "grid": false,
                       "values": [{"year": 2018, "month": 10, "date": 3, "hours": 10, "minutes": 40}, {"year": 2018, "month": 10, "date": 3, "hours": 11, "minutes": 0}, {"year": 2018, "month": 10, "date": 3, "hours": 11, "minutes": 20}, {"year": 2018, "month": 10, "date": 3, "hours": 11, "minutes": 40}, {"year": 2018, "month": 10, "date": 3, "hours": 12, "minutes": 0}, {"year": 2018, "month": 10, "date": 3, "hours": 12, "minutes": 20}]}},
        "y": {"field": "v", "type": "quantitative",
              "axis": {"orient": "right", "values": [50, 100, 150, 200], "labels": false, "title": null, "grid": false}},
        "detail": {"field": "s", "type": "nominal"}
      }
    }
  ],
  "resolve": {"axis": {"x": "independent", "y": "independent"}}
},
{
  "width": 666, "height": 382,
  "view": {"fill": {"gradient": "linear", "x1": 0, "y1": 0, "x2": 0, "y2": 1, "stops": [{"offset": 0, "color": "#dedede"}, {"offset": 1, "color": "#cacaca"}]}},
  "data": {"name": "lumi"},
  "layer": [
    {
      "mark": {"type": "circle", "size": 140, "opacity": 1, "color": "#ff0066", "clip": false},
      "encoding": {
        "x": {"field": "t", "type": "temporal",
              "scale": {"domain": [{"year": 2018, "month": 10, "date": 3, "hours": 10, "minutes": 20}, {"year": 2018, "month": 10, "date": 3, "hours": 12, "minutes": 40}]},
              "axis": {"orient": "bottom", "title": null, "grid": true, "format": "%m-%-d-%Y %H:%M", "labelAngle": 270, "labelPadding": 29, "labelFontSize": 18,
                       "values": [{"year": 2018, "month": 10, "date": 3, "hours": 10, "minutes": 20}, {"year": 2018, "month": 10, "date": 3, "hours": 10, "minutes": 40}, {"year": 2018, "month": 10, "date": 3, "hours": 11, "minutes": 0}, {"year": 2018, "month": 10, "date": 3, "hours": 11, "minutes": 20}, {"year": 2018, "month": 10, "date": 3, "hours": 11, "minutes": 40}, {"year": 2018, "month": 10, "date": 3, "hours": 12, "minutes": 0}, {"year": 2018, "month": 10, "date": 3, "hours": 12, "minutes": 20}, {"year": 2018, "month": 10, "date": 3, "hours": 12, "minutes": 40}]}},
        "y": {"field": "L", "type": "quantitative", "scale": {"domain": [0, 4]},
              "axis": {"orient": "left", "values": [0, 0.5, 1, 1.5, 2, 2.5, 3, 3.5, 4], "format": ".3f", "title": "L [10³¹ cm⁻² s⁻¹]", "grid": true, "titlePadding": 41}}
      }
    },
    {
      "mark": {"type": "circle", "opacity": 0},
      "encoding": {
        "x": {"field": "t", "type": "temporal",
              "axis": {"orient": "top", "labels": false, "title": null, "grid": false,
                       "values": [{"year": 2018, "month": 10, "date": 3, "hours": 10, "minutes": 40}, {"year": 2018, "month": 10, "date": 3, "hours": 11, "minutes": 0}, {"year": 2018, "month": 10, "date": 3, "hours": 11, "minutes": 20}, {"year": 2018, "month": 10, "date": 3, "hours": 11, "minutes": 40}, {"year": 2018, "month": 10, "date": 3, "hours": 12, "minutes": 0}, {"year": 2018, "month": 10, "date": 3, "hours": 12, "minutes": 20}]}},
        "y": {"field": "L", "type": "quantitative",
              "axis": {"orient": "right", "values": [0.5, 1, 1.5, 2, 2.5, 3, 3.5], "labels": false, "title": null, "grid": false}}
      }
    }
  ],
  "resolve": {"axis": {"x": "independent", "y": "independent"}}
}
]
}
